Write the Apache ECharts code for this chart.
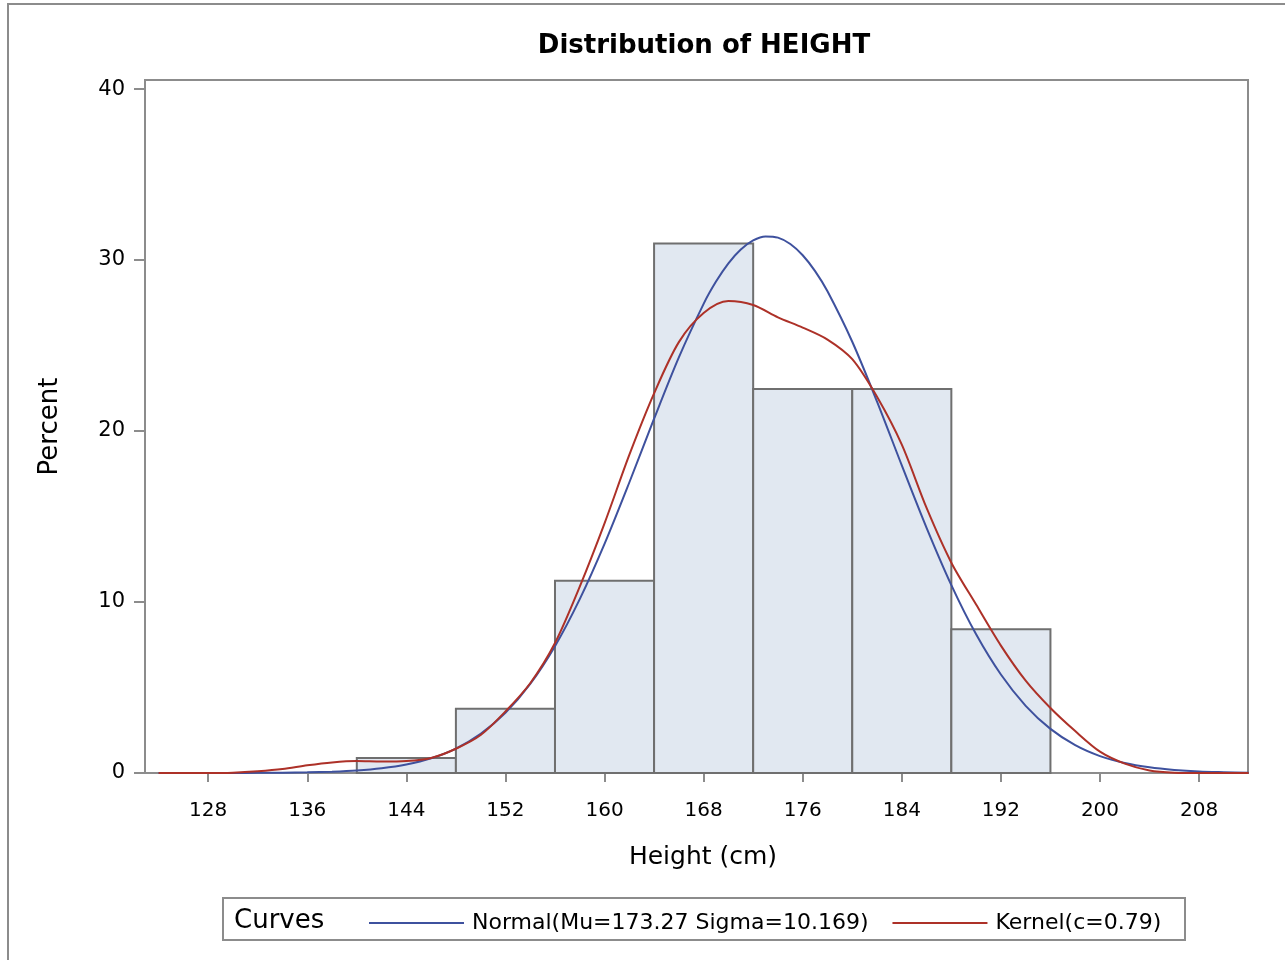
<!DOCTYPE html>
<html>
<head>
<meta charset="utf-8">
<script src="https://cdn.jsdelivr.net/npm/echarts@6/dist/echarts.min.js"></script>
<style>
  html, body { margin: 0; padding: 0; background: #fff; }
  #chart { width: 1285px; height: 960px; }
</style>
</head>
<body>
<div id="chart"></div>
<script>
// histogram bins (cm) and percent per bin
const binLo = [140, 148, 156, 164, 172, 180, 188];
const binHi = [148, 156, 164, 172, 180, 188, 196];
const binPct = [0.88, 3.76, 11.24, 30.97, 22.46, 22.46, 8.4];

// curve sample points
const normalX = [124, 126, 128, 130, 132, 134, 136, 138, 140, 142, 144, 146, 148, 150, 152,
  154, 156, 158, 160, 162, 164, 166, 168, 169, 170, 171, 172, 173, 174, 175, 176, 177, 178,
  180, 182, 184, 186, 188, 190, 192, 194, 196, 198, 200, 202, 204, 206, 208, 210, 212];
const normalY = [0, 0, 0, 0, 0.01, 0.02, 0.04, 0.08, 0.15, 0.28, 0.5, 0.86, 1.43, 2.29, 3.52,
  5.21, 7.42, 10.17, 13.4, 16.99, 20.72, 24.31, 27.44, 28.74, 29.81, 30.62, 31.15, 31.38, 31.31,
  30.94, 30.28, 29.35, 28.17, 25.22, 21.72, 17.99, 14.34, 10.99, 8.11, 5.76, 3.93, 2.58, 1.63,
  0.99, 0.58, 0.33, 0.18, 0.09, 0.05, 0.02];

const kernelX = [124, 126, 128, 130, 132, 134, 136, 138, 140, 142, 144, 146, 148, 150, 152,
  154, 156, 158, 160, 162, 164, 166, 168, 170, 172, 174, 176, 178, 180, 182, 184, 186, 188,
  190, 192, 194, 196, 198, 200, 202, 204, 206, 208, 210, 212];
const kernelY = [0, 0, 0, 0.02, 0.1, 0.23, 0.45, 0.62, 0.7, 0.67, 0.7, 0.88, 1.42, 2.22, 3.6,
  5.25, 7.6, 10.9, 14.6, 18.6, 22.2, 25.2, 26.9, 27.6, 27.37, 26.65, 26.05, 25.35, 24.2,
  22.0, 19.2, 15.5, 12.3, 9.85, 7.45, 5.4, 3.8, 2.45, 1.25, 0.55, 0.15, 0.02, 0, 0, 0];

const xTicks = [128, 136, 144, 152, 160, 168, 176, 184, 192, 200, 208];
const yTicks = [0, 10, 20, 30, 40];

const normalName = 'Normal(Mu=173.27 Sigma=10.169)';
const kernelName = 'Kernel(c=0.79)';

const font = 'DejaVu Sans';
const axisGray = '#8c8c8c';

const chart = echarts.init(document.getElementById('chart'));

const option = {
  animation: false,
  backgroundColor: '#fff',
  textStyle: { fontFamily: font, color: '#000' },
  title: {
    text: 'Distribution of HEIGHT',
    left: 699,
    textAlign: 'center',
    top: 28,
    textStyle: { fontFamily: font, fontSize: 26, fontWeight: 'bold', color: '#000' }
  },
  grid: {
    left: 145, right: 37, top: 80, bottom: 187,
    show: true, borderColor: axisGray, borderWidth: 2, backgroundColor: '#fff'
  },
  xAxis: {
    type: 'value',
    min: 122.9, max: 211.95,
    name: 'Height (cm)',
    nameLocation: 'middle',
    nameGap: 72,
    nameTextStyle: { fontFamily: font, fontSize: 25, color: '#000', padding: [0, 0, 0, 13] },
    axisLine: { show: true, lineStyle: { color: axisGray, width: 2 } },
    axisTick: { show: true, length: 9, customValues: xTicks, lineStyle: { color: axisGray, width: 2 } },
    axisLabel: { customValues: xTicks, margin: 28, fontSize: 20, color: '#000', fontFamily: font },
    splitLine: { show: false }
  },
  yAxis: {
    type: 'value',
    min: 0, max: 40.53,
    name: 'Percent',
    nameLocation: 'middle',
    nameGap: 82,
    nameTextStyle: { fontFamily: font, fontSize: 26, color: '#000' },
    axisLine: { show: true, lineStyle: { color: axisGray, width: 2 } },
    axisTick: { show: true, length: 11, customValues: yTicks, lineStyle: { color: axisGray, width: 2 } },
    axisLabel: { customValues: yTicks, margin: 20, fontSize: 21, color: '#000', fontFamily: font },
    splitLine: { show: false }
  },
  legend: {
    left: 364,
    top: 907,
    icon: 'rect',
    itemWidth: 95,
    itemHeight: 2,
    itemGap: 24,
    data: [normalName, kernelName],
    textStyle: { fontFamily: font, fontSize: 22, color: '#000', padding: [0, 0, 0, 3] }
  },
  graphic: [
    {
      type: 'rect', silent: true, z: -10,
      shape: { x: 8, y: 4, width: 1290, height: 970 },
      style: { fill: 'none', stroke: '#8c8c8c', lineWidth: 2 }
    },
    {
      type: 'rect', silent: true,
      shape: { x: 223, y: 898, width: 962, height: 42 },
      style: { fill: 'none', stroke: '#8c8c8c', lineWidth: 2 }
    },
    {
      type: 'text', silent: true,
      left: 234, top: 908,
      style: { text: 'Curves', fontFamily: font, fontSize: 26, fill: '#000' }
    }
  ],
  series: [
    {
      type: 'custom',
      name: 'bins',
      z: 2,
      data: binLo.map((lo, i) => [lo, binHi[i], binPct[i]]),
      renderItem: function (params, api) {
        const p0 = api.coord([api.value(0), 0]);
        const p1 = api.coord([api.value(1), api.value(2)]);
        return {
          type: 'rect',
          shape: { x: p0[0], y: p1[1], width: p1[0] - p0[0], height: p0[1] - p1[1] },
          style: { fill: '#e1e8f1', stroke: '#6f6f6f', lineWidth: 2 }
        };
      }
    },
    {
      type: 'line',
      name: normalName,
      z: 4,
      smooth: 0.3,
      symbol: 'none',
      color: '#3e519e',
      lineStyle: { color: '#3e519e', width: 2 },
      data: normalX.map((x, i) => [x, normalY[i]])
    },
    {
      type: 'line',
      name: kernelName,
      z: 5,
      smooth: 0.3,
      symbol: 'none',
      color: '#ad3128',
      lineStyle: { color: '#ad3128', width: 2 },
      data: kernelX.map((x, i) => [x, kernelY[i]])
    }
  ]
};

chart.setOption(option);
</script>
</body>
</html>
